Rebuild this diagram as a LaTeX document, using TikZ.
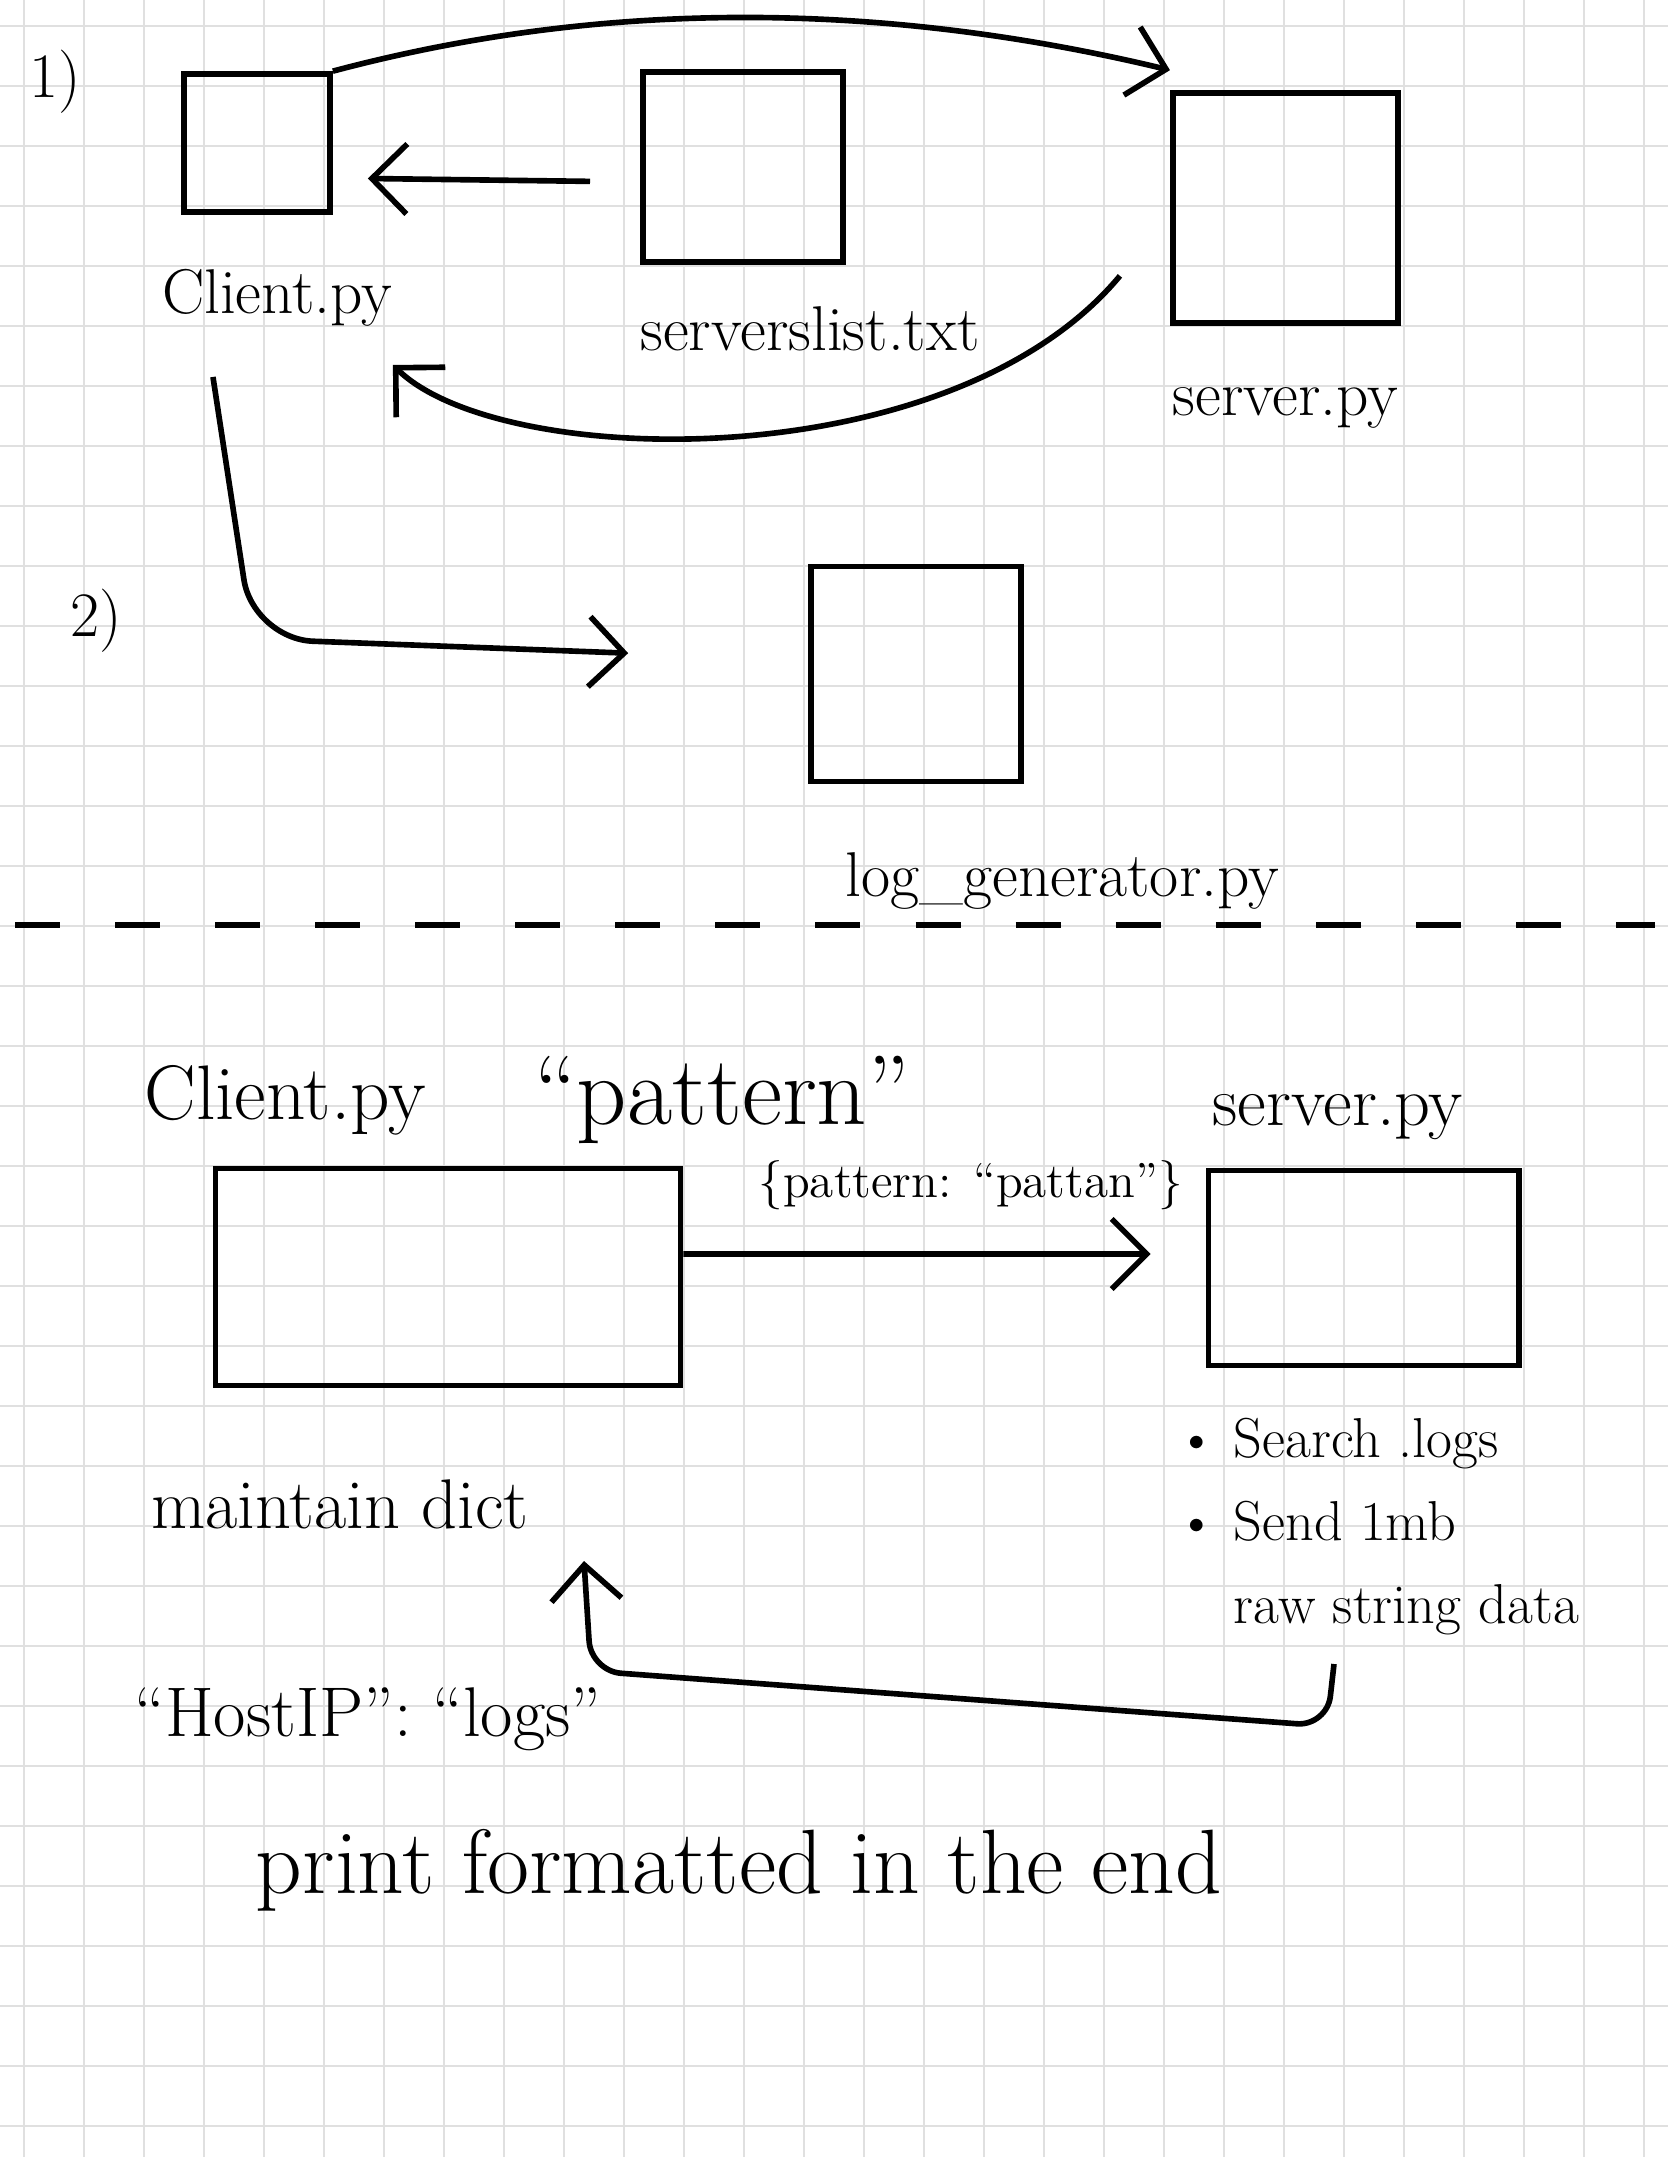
\documentclass[tikz,border=0pt]{standalone}
\usepackage{amsmath}
\usepackage{tikz}
\usetikzlibrary{positioning, arrows.meta}

\tikzset{
  box/.style={rectangle, draw, line width=1.6pt},
  hand/.style={font=\fontsize{18}{22}\selectfont},
  handl/.style={font=\fontsize{20}{24}\selectfont},
  big/.style={font=\fontsize{22}{26}\selectfont},
  note/.style={font=\fontsize{16}{23.6}\selectfont},
  small/.style={font=\fontsize{14}{17}\selectfont},
  gridline/.style={black!12, line width=0.8pt}
}

\begin{document}
\begin{tikzpicture}[x=0.01cm, y=-0.01cm, line width=1.6pt,
  >={Straight Barb[length=3.5mm,width=7mm]}]
  \useasboundingbox (0,0) rectangle (1668,2157);
  \fill[white] (0,0) rectangle (1668,2157);
  % squared paper
  \foreach \gx in {24,84,...,1644}
    \draw[gridline] (\gx,0) -- (\gx,2157);
  \foreach \gy in {26,86,...,2126}
    \draw[gridline] (0,\gy) -- (1668,\gy);

  % 1) getting the server list
  \node[hand] (one) at (55,82) {1)};
  \node[box, minimum width=14.6mm, minimum height=13.8mm] (client) at (257,143) {};
  \node[
  box,
  right=3.07cm of client,
  yshift=-2.4mm,
  minimum width=20mm,
  minimum height=19mm] (list) {};
  \node[
  box,
  right=3.24cm of list,
  yshift=-4.1mm,
  minimum width=22.5mm,
  minimum height=23mm] (server) {};

  \node[hand, below=4mm of client, xshift=2mm] (clientname) {Client.py};
  \node[hand, below=2.7mm of list, xshift=6.7mm] (listname) {serverslist.txt};
  \node[hand, below=4.7mm of server] (servername) {server.py};

  \draw[->] (client.north east) .. controls (600,0) and (878,0) .. ([yshift=2mm]server.north west);
  \draw[->, shorten <=5mm, shorten >=3.5mm] ([yshift=-1.5mm]list.west) -- ([yshift=-3.5mm]client.east);
  \draw[->] ([xshift=-5mm,yshift=5mm]server.south west) .. controls (950,480) and (500,470) .. ([xshift=6mm,yshift=-15mm]client.south east);

  % 2) log generator
  \node[hand] (two) at (96,621) {2)};
  \node[box, minimum width=21mm, minimum height=21.5mm] (loggen) at (916,674) {};
  \node[hand, below=5.4mm of loggen, xshift=14.6mm] (loggenname) {log\_generator.py};
  \draw[->, rounded corners=6mm, shorten >=18mm] ([xshift=-4.4mm,yshift=-16.2mm]client.south) -- ++(40,262) -- ([yshift=1.4mm]loggen.west);

  \draw[line width=1.7pt, dash pattern=on 4.5mm off 5.5mm] (15,925) -- (1655,925);

  % query and answer
  \node[box, minimum width=46.5mm, minimum height=21.7mm] (client2) at (448,1277) {};
  \node[
  box,
  right=5.22cm of client2,
  yshift=0.9mm,
  minimum width=31mm,
  minimum height=19.5mm] (server2) {};

  \node[big] (client2name) at (285,1100) {Client.py};
  \node[font=\fontsize{28}{32}\selectfont] (pattern) at (722,1100) {``pattern''};
  \node[handl, above=1.3mm of server2, xshift=-2.6mm] (server2name) {server.py};
  \node[handl, below=7.7mm of client2, xshift=-10.8mm] (dict) {maintain dict};
  \node[note, align=left, below=3.5mm of server2, xshift=1.4mm] (tasks)
    {\textbullet\ Search .logs\\ \textbullet\ Send 1mb\\ \phantom{\textbullet\ }raw string data};
  \node[handl] (hostlogs) at (368,1719) {``HostIP'': ``logs''};
  \node[font=\fontsize{26}{30}\selectfont] (printend) at (739,1870) {print formatted in the end};

  \draw[->, shorten >=5.5mm] ([yshift=2.3mm]client2.east) -- node[small, above=3mm, xshift=2.6mm] (payload) {\{pattern: ``pattan''\}} ([yshift=1.4mm]server2.west);

  \coordinate (ret) at (1334,1664);
  \coordinate (dictin) at (584,1561);
  \draw[->, rounded corners=3mm] (ret) -- ++(-7,62) -- ++(-736,-55) -- (dictin);
\end{tikzpicture}
\end{document}
